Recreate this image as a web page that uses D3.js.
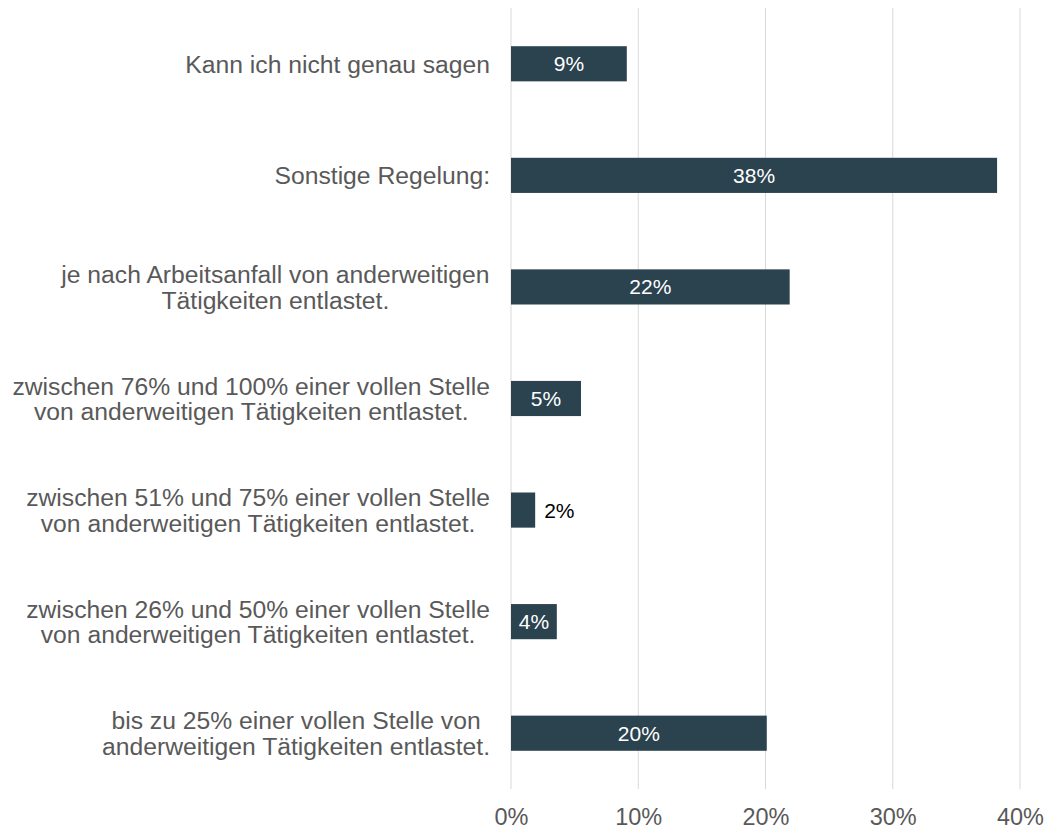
<!DOCTYPE html>
<html>
<head>
<meta charset="utf-8">
<script src="https://cdn.jsdelivr.net/npm/d3@7"></script>
<style>
  body { margin: 0; background: #fff; }
  text { font-family: "Liberation Sans", Arial, sans-serif; }
</style>
</head>
<body>
<svg id="chart"></svg>
<script>
// categories, top to bottom; each entry is the lines of the label
var categories = [
  ["Kann ich nicht genau sagen"],
  ["Sonstige Regelung:"],
  ["je nach Arbeitsanfall von anderweitigen", "Tätigkeiten entlastet."],
  ["zwischen 76% und 100% einer vollen Stelle", "von anderweitigen Tätigkeiten entlastet."],
  ["zwischen 51% und 75% einer vollen Stelle", "von anderweitigen Tätigkeiten entlastet."],
  ["zwischen 26% und 50% einer vollen Stelle", "von anderweitigen Tätigkeiten entlastet."],
  ["bis zu 25% einer vollen Stelle von", "anderweitigen Tätigkeiten entlastet."]
];
var values = [0.091, 0.382, 0.219, 0.055, 0.019, 0.036, 0.201];
var valueLabels = ["9%", "38%", "22%", "5%", "2%", "4%", "20%"];
var xTicks = [0, 0.1, 0.2, 0.3, 0.4];

var svgWidth = 1047, svgHeight = 830;
var margin = { top: 8, right: 27, bottom: 41, left: 511 };

var svg = d3.select("#chart")
  .attr("width", svgWidth)
  .attr("height", svgHeight);

var x = d3.scaleLinear()
  .domain([0, 0.4])
  .range([margin.left, svgWidth - margin.right]);

var y = d3.scaleBand()
  .domain(d3.range(categories.length))
  .range([margin.top, svgHeight - margin.bottom])
  .paddingInner(0.685)
  .paddingOuter(0.3425);

//grid lines
svg.append("g")
  .selectAll("line")
  .data(xTicks)
  .join("line")
  .attr("x1", d => x(d)).attr("x2", d => x(d))
  .attr("y1", margin.top).attr("y2", svgHeight - margin.bottom)
  .attr("stroke", "#d9d9d9")
  .attr("stroke-width", 1);

//x axis labels
var xAxis = svg.append("g")
  .attr("transform", `translate(0,${svgHeight - margin.bottom})`)
  .call(d3.axisBottom(x).tickValues(xTicks).tickFormat(d3.format(".0%")).tickSize(0).tickPadding(19));
xAxis.select(".domain").remove();
xAxis.selectAll("text")
  .attr("fill", "#595959")
  .style("font-size", "23.5px")
  .style("font-family", "'Liberation Sans', Arial, sans-serif");

//bars
svg.append("g")
  .selectAll("rect")
  .data(values)
  .join("rect")
  .attr("x", x(0))
  .attr("y", (d, i) => y(i))
  .attr("width", d => x(d) - x(0))
  .attr("height", y.bandwidth())
  .attr("fill", "#2b424f");

//value labels, small bars get the label outside
var outside = d => x(d) - x(0) < 30;
svg.append("g")
  .selectAll("text")
  .data(values)
  .join("text")
  .attr("x", d => outside(d) ? x(d) + 9 : (x(0) + x(d)) / 2)
  .attr("y", (d, i) => y(i) + y.bandwidth() / 2)
  .attr("dy", "0.36em")
  .attr("text-anchor", d => outside(d) ? "start" : "middle")
  .attr("fill", d => outside(d) ? "#000" : "#fff")
  .style("font-size", "21px")
  .text((d, i) => valueLabels[i]);

//category labels: block right aligned, lines centred in the block
var labelRight = 490, lineHeight = 25.5;
var catG = svg.append("g");
categories.forEach(function(lines, i){
  var t = catG.append("text")
    .attr("fill", "#595959")
    .style("font-size", "24.7px")
    .attr("text-anchor", "middle");
  var cy = y(i) + y.bandwidth() / 2;
  lines.forEach(function(line, j){
    t.append("tspan")
      .attr("x", 0)
      .attr("y", cy + (j - (lines.length - 1) / 2) * lineHeight)
      .attr("dy", "0.36em")
      .text(line);
  });
  var w = t.node().getBBox().width;
  t.selectAll("tspan").attr("x", labelRight - w / 2);
});
</script>
</body>
</html>
